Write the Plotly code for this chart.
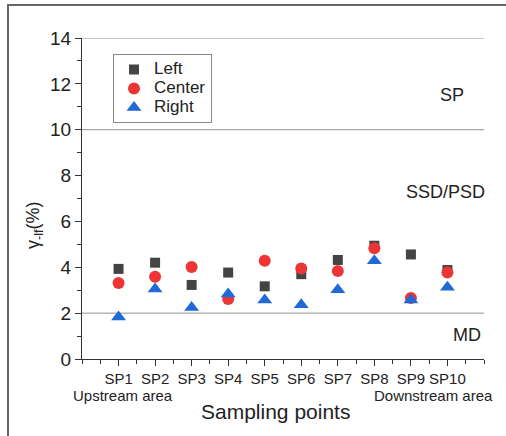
import plotly.graph_objects as go

categories = ["SP1", "SP2", "SP3", "SP4", "SP5", "SP6", "SP7", "SP8", "SP9", "SP10"]
positions = [1, 2, 3, 4, 5, 6, 7, 8, 9, 10]
series_names = ["Left", "Center", "Right"]
left_vals = [3.93, 4.20, 3.23, 3.77, 3.17, 3.70, 4.32, 4.94, 4.56, 3.88]
center_vals = [3.31, 3.59, 4.01, 2.62, 4.29, 3.95, 3.84, 4.83, 2.66, 3.77]
right_vals = [1.83, 3.05, 2.25, 2.83, 2.57, 2.37, 3.02, 4.29, 2.57, 3.13]
y_ticks = [0, 2, 4, 6, 8, 10, 12, 14]
threshold_lines = [2, 10, 14]

FONT = "Liberation Sans, Arial, sans-serif"
TXT = "#222222"


def legend_label(s):
    return "<span style='font-size:17px'>" + s + "</span>"


fig = go.Figure()
fig.add_trace(go.Scatter(x=positions, y=left_vals, mode="markers", name=legend_label(series_names[0]),
                         marker=dict(symbol="square", size=10, color="#444444")))
fig.add_trace(go.Scatter(x=positions, y=center_vals, mode="markers", name=legend_label(series_names[1]),
                         marker=dict(symbol="circle", size=12, color="#ee3535")))
fig.add_trace(go.Scatter(x=positions, y=right_vals, mode="markers", name=legend_label(series_names[2]),
                         marker=dict(symbol="triangle-up", size=13, color="#1f6ad6")))

for v in threshold_lines:
    fig.add_shape(type="line", xref="paper", yref="y", x0=0, x1=1, y0=v, y1=v,
                  line=dict(color="#909090", width=1), layer="below")

# outer frame
fig.add_shape(type="rect", xref="paper", yref="paper",
              x0=(8 - 82) / 402, x1=(520 - 82) / 402,
              y0=-(450 - 359) / 321, y1=1 + (38 - 5) / 321,
              line=dict(color="#666666", width=2), layer="below")

annos = [
    ("SP", 452, 95, 18),
    ("SSD/PSD", 445, 192, 18),
    ("MD", 467, 335, 18),
    ("Upstream area", 123, 395, 15),
    ("Downstream area", 433, 395, 15),
    ("Sampling points", 275, 411, 21),
]
for text, px, py, fs in annos:
    fig.add_annotation(text=text, xref="paper", yref="paper",
                       x=(px - 82) / 402, y=(359 - py) / 321,
                       xanchor="center", yanchor="middle", showarrow=False,
                       font=dict(family=FONT, size=fs, color=TXT))

fig.add_annotation(text="γ<sub>-lf</sub>(%)", xref="paper", yref="paper",
                   x=(35 - 82) / 402, y=(359 - 225) / 321, textangle=-90,
                   xanchor="center", yanchor="middle", showarrow=False,
                   font=dict(family=FONT, size=18, color=TXT))

fig.update_layout(
    width=506, height=436,
    margin=dict(l=82, r=22, t=38, b=77, autoexpand=False),
    paper_bgcolor="white", plot_bgcolor="white",
    showlegend=True,
    legend=dict(x=(113 - 82) / 402, y=(359 - 54) / 321, xanchor="left", yanchor="top",
                bgcolor="white", bordercolor="#888888", borderwidth=1,
                font=dict(family=FONT, size=12, color=TXT),
                itemwidth=30, tracegroupgap=0),
    xaxis=dict(range=[0, 11], tickmode="array", tickvals=positions, ticktext=categories,
               tickangle=0, automargin=False,
               showgrid=False, zeroline=False, showline=True, linecolor="#333333", linewidth=1.2,
               ticks="outside", ticklen=6, tickcolor="#333333",
               minor=dict(tickmode="linear", tick0=0, dtick=0.5, ticks="outside", ticklen=4,
                          tickcolor="#333333", showgrid=False),
               tickfont=dict(family=FONT, size=15, color=TXT)),
    yaxis=dict(range=[0, 14], tickmode="array", tickvals=y_ticks, automargin=False,
               showgrid=False, zeroline=False, showline=True, linecolor="#333333", linewidth=1.2,
               ticks="outside", ticklen=6, tickcolor="#333333",
               minor=dict(tickmode="linear", tick0=0, dtick=1, ticks="outside", ticklen=4,
                          tickcolor="#333333", showgrid=False),
               tickfont=dict(family=FONT, size=19, color=TXT)),
)

fig.write_html("out.html", config={"displayModeBar": False},
               post_script="document.body.style.margin='0';")
